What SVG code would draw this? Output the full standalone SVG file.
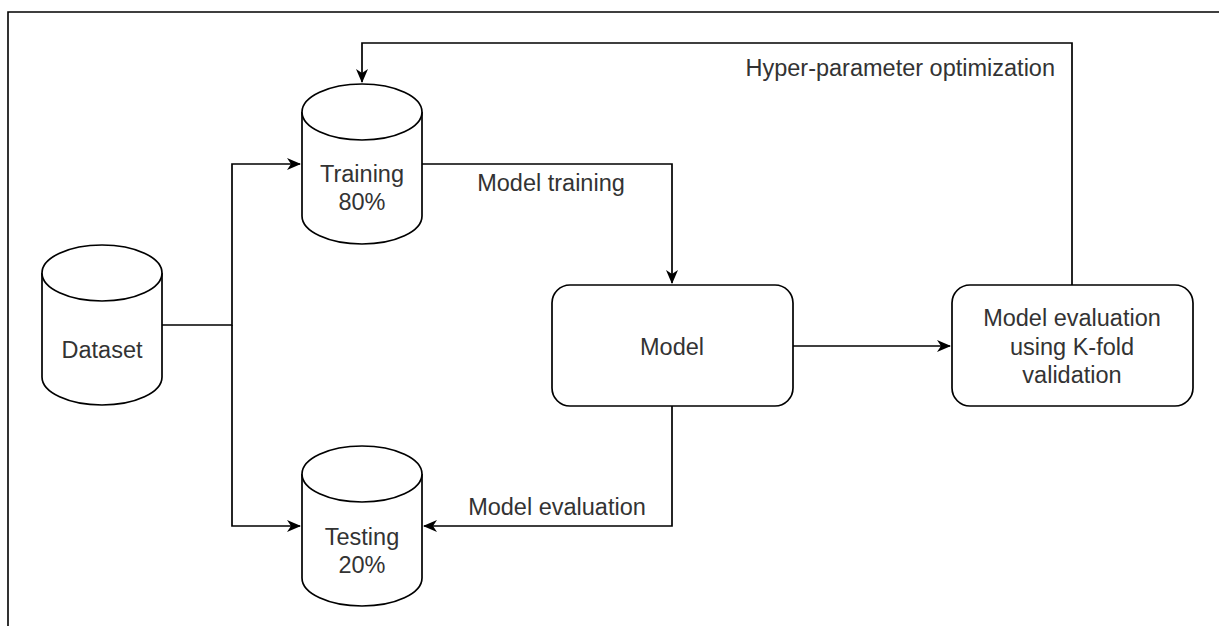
<svg xmlns="http://www.w3.org/2000/svg" width="1219" height="626" viewBox="0 0 1219 626">
<style>
.shape{fill:#fff;stroke:#000;stroke-width:1.7}
.edge{fill:none;stroke:#000;stroke-width:1.7}
text{font-family:"Liberation Sans",Arial,sans-serif;font-size:23.5px;fill:#333}
.c{text-anchor:middle}
</style>
<defs>
<marker id="arr" viewBox="0 0 14 12" refX="13" refY="6" markerWidth="14" markerHeight="12" markerUnits="userSpaceOnUse" orient="auto">
<path d="M0,0 L14,6 L0,12 L4,6 Z" fill="#000"/>
</marker>
</defs>
<rect x="0" y="0" width="1219" height="626" fill="#fff"/>
<path d="M8,640 L8,12 L1230,12" fill="none" stroke="#000" stroke-width="1.6"/>
<g id="connectors">
<path class="edge" d="M162,325 L232,325 L232,164 L300,164" marker-end="url(#arr)"/>
<path class="edge" d="M232,325 L232,526 L300,526" marker-end="url(#arr)"/>
<path class="edge" d="M422,164 L672,164 L672,283" marker-end="url(#arr)"/>
<path class="edge" d="M672,406 L672,526 L424,526" marker-end="url(#arr)"/>
<path class="edge" d="M793,346 L950,346" marker-end="url(#arr)"/>
<path class="edge" d="M1072,285 L1072,43 L362,43 L362,82" marker-end="url(#arr)"/>
<text class="c" x="551" y="191">Model training</text>
<text class="c" x="557" y="515">Model evaluation</text>
<text x="1055" y="76" text-anchor="end">Hyper-parameter optimization</text>
</g>
<g id="dataset">
<path class="shape" d="M42,273 A60,28 0 0 1 162,273 L162,377 A60,28 0 0 1 42,377 Z"/>
<path class="shape" d="M42,273 A60,28 0 0 0 162,273" fill="none"/>
<text class="c" x="102" y="358">Dataset</text>
</g>
<g id="training">
<path class="shape" d="M302,112 A60,28 0 0 1 422,112 L422,216 A60,28 0 0 1 302,216 Z"/>
<path class="shape" d="M302,112 A60,28 0 0 0 422,112" fill="none"/>
<text class="c" x="362" y="182">Training</text>
<text class="c" x="362" y="210">80%</text>
</g>
<g id="testing">
<path class="shape" d="M302,474 A60,28 0 0 1 422,474 L422,578 A60,28 0 0 1 302,578 Z"/>
<path class="shape" d="M302,474 A60,28 0 0 0 422,474" fill="none"/>
<text class="c" x="362" y="545">Testing</text>
<text class="c" x="362" y="573">20%</text>
</g>
<g id="model">
<rect class="shape" x="552" y="285" width="241" height="121" rx="18" ry="18"/>
<text class="c" x="672" y="355">Model</text>
</g>
<g id="evaluation">
<rect class="shape" x="952" y="285" width="241" height="121" rx="18" ry="18"/>
<text class="c" x="1072" y="326">Model evaluation</text>
<text class="c" x="1072" y="355">using K-fold</text>
<text class="c" x="1072" y="383">validation</text>
</g>
</svg>
